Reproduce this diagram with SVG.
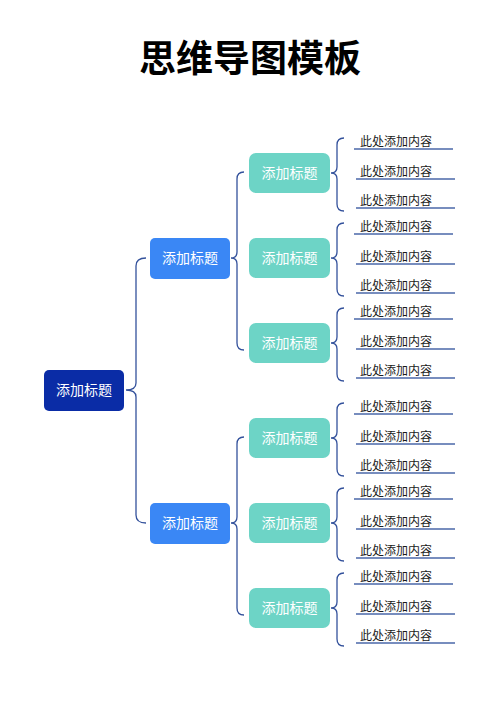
<svg xmlns="http://www.w3.org/2000/svg" width="500" height="707" viewBox="0 0 500 707">
<style>
.t{font-family:"Noto Sans CJK SC","Noto Sans",sans-serif;}
.title{font-size:37px;font-weight:bold;fill:#000;text-anchor:middle;}
.nt{font-size:14px;fill:#fff;text-anchor:middle;}
.lt{font-size:12px;fill:#1a1a1a;}
.root{fill:#0a2ca6;}
.l1{fill:#3a87f5;}
.l2{fill:#6dd4c6;}
.br{fill:none;stroke:#34529c;stroke-width:1.3;}
.ul{fill:none;stroke:#4a67a8;stroke-width:1.3;}
</style>
<rect width="500" height="707" fill="#fff"/>
<text class="t title" x="250" y="72">思维导图模板</text>
<g id="connectors">
<path class="br" d="M146,258 Q136,258 136,266 L136,383 Q136,390 126,390 Q136,390 136,397 L136,515 Q136,523 146,523"/>
<path class="br" d="M244,172 Q237,172 237,179 L237,252 Q237,258 231,258 Q237,258 237,264 L237,343 Q237,350 244,350"/>
<path class="br" d="M244,437 Q237,437 237,444 L237,517 Q237,523 231,523 Q237,523 237,529 L237,608 Q237,615 244,615"/>
<path class="br" d="M344,138 Q337,138 337,145 L337,167 Q337,173 331,173 Q337,173 337,179 L337,204 Q337,211 344,211"/>
<path class="br" d="M344,223 Q337,223 337,230 L337,252 Q337,258 331,258 Q337,258 337,264 L337,289 Q337,296 344,296"/>
<path class="br" d="M344,308 Q337,308 337,315 L337,337 Q337,343 331,343 Q337,343 337,349 L337,374 Q337,381 344,381"/>
<path class="br" d="M344,403 Q337,403 337,410 L337,432 Q337,438 331,438 Q337,438 337,444 L337,469 Q337,476 344,476"/>
<path class="br" d="M344,488 Q337,488 337,495 L337,517 Q337,523 331,523 Q337,523 337,529 L337,554 Q337,561 344,561"/>
<path class="br" d="M344,573 Q337,573 337,580 L337,602 Q337,608 331,608 Q337,608 337,614 L337,639 Q337,646 344,646"/>
</g>
<g id="root"><rect class="root" x="44" y="370" width="80" height="41" rx="5"/><text class="t nt" x="84" y="395">添加标题</text></g>
<g id="n1"><rect class="l1" x="150" y="238" width="80" height="41" rx="5"/><text class="t nt" x="190" y="263">添加标题</text></g>
<g id="n2"><rect class="l1" x="150" y="503" width="80" height="41" rx="5"/><text class="t nt" x="190" y="528">添加标题</text></g>
<g id="n11"><rect class="l2" x="249" y="153" width="81" height="40" rx="7"/><text class="t nt" x="289.5" y="178">添加标题</text></g>
<g id="n12"><rect class="l2" x="249" y="238" width="81" height="40" rx="7"/><text class="t nt" x="289.5" y="263">添加标题</text></g>
<g id="n13"><rect class="l2" x="249" y="323" width="81" height="40" rx="7"/><text class="t nt" x="289.5" y="348">添加标题</text></g>
<g id="n21"><rect class="l2" x="249" y="418" width="81" height="40" rx="7"/><text class="t nt" x="289.5" y="443">添加标题</text></g>
<g id="n22"><rect class="l2" x="249" y="503" width="81" height="40" rx="7"/><text class="t nt" x="289.5" y="528">添加标题</text></g>
<g id="n23"><rect class="l2" x="249" y="588" width="81" height="40" rx="7"/><text class="t nt" x="289.5" y="613">添加标题</text></g>
<g id="leaves">
<g id="l111"><text class="t lt" x="360" y="145.5">此处添加内容</text><line class="ul" x1="354" y1="149" x2="453" y2="149"/></g>
<g id="l112"><text class="t lt" x="360" y="175.5">此处添加内容</text><line class="ul" x1="356" y1="179" x2="455" y2="179"/></g>
<g id="l113"><text class="t lt" x="360" y="204.5">此处添加内容</text><line class="ul" x1="356" y1="208" x2="455" y2="208"/></g>
<g id="l121"><text class="t lt" x="360" y="230.5">此处添加内容</text><line class="ul" x1="354" y1="234" x2="453" y2="234"/></g>
<g id="l122"><text class="t lt" x="360" y="260.5">此处添加内容</text><line class="ul" x1="356" y1="264" x2="455" y2="264"/></g>
<g id="l123"><text class="t lt" x="360" y="289.5">此处添加内容</text><line class="ul" x1="356" y1="293" x2="455" y2="293"/></g>
<g id="l131"><text class="t lt" x="360" y="315.5">此处添加内容</text><line class="ul" x1="354" y1="319" x2="453" y2="319"/></g>
<g id="l132"><text class="t lt" x="360" y="345.5">此处添加内容</text><line class="ul" x1="356" y1="349" x2="455" y2="349"/></g>
<g id="l133"><text class="t lt" x="360" y="374.5">此处添加内容</text><line class="ul" x1="356" y1="378" x2="455" y2="378"/></g>
<g id="l211"><text class="t lt" x="360" y="410.5">此处添加内容</text><line class="ul" x1="354" y1="414" x2="453" y2="414"/></g>
<g id="l212"><text class="t lt" x="360" y="440.5">此处添加内容</text><line class="ul" x1="356" y1="444" x2="455" y2="444"/></g>
<g id="l213"><text class="t lt" x="360" y="469.5">此处添加内容</text><line class="ul" x1="356" y1="473" x2="455" y2="473"/></g>
<g id="l221"><text class="t lt" x="360" y="495.5">此处添加内容</text><line class="ul" x1="354" y1="499" x2="453" y2="499"/></g>
<g id="l222"><text class="t lt" x="360" y="525.5">此处添加内容</text><line class="ul" x1="356" y1="529" x2="455" y2="529"/></g>
<g id="l223"><text class="t lt" x="360" y="554.5">此处添加内容</text><line class="ul" x1="356" y1="558" x2="455" y2="558"/></g>
<g id="l231"><text class="t lt" x="360" y="580.5">此处添加内容</text><line class="ul" x1="354" y1="584" x2="453" y2="584"/></g>
<g id="l232"><text class="t lt" x="360" y="610.5">此处添加内容</text><line class="ul" x1="356" y1="614" x2="455" y2="614"/></g>
<g id="l233"><text class="t lt" x="360" y="639.5">此处添加内容</text><line class="ul" x1="356" y1="643" x2="455" y2="643"/></g>
</g>
</svg>
